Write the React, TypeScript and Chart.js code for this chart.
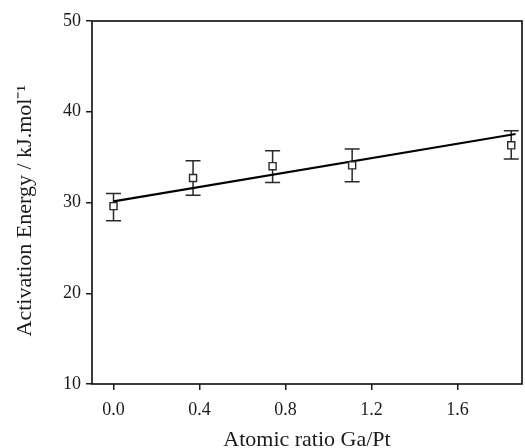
import { useEffect, useRef } from "react";
import { Chart, registerables } from "chart.js";

Chart.register(...registerables);

// Data
const ratioGaPt = [0, 0.37, 0.74, 1.11, 1.85];
const activationEnergy = [29.6, 32.7, 34.0, 34.1, 36.3];
const energyHigh = [31.0, 34.6, 35.7, 35.9, 37.9];
const energyLow = [28.0, 30.8, 32.2, 32.3, 34.8];
const fitX = [0, 1.87];
const fitY = [30.13, 37.55];
const xTickValues = [0, 0.4, 0.8, 1.2, 1.6];
const yTickValues = [10, 20, 30, 40, 50];

const FONT = "'Liberation Serif', 'Times New Roman', Times, serif";
const INK = "#1a1a1a";

const frameAndErrors = {
  id: "frameAndErrors",
  beforeDatasetsDraw(chart: any) {
    const { ctx, scales } = chart;
    const xs = scales.x;
    const ys = scales.y;
    ctx.save();
    ctx.strokeStyle = "#2a2a2a";
    ctx.lineWidth = 1.5;
    const cap = 7.5;
    for (let i = 0; i < ratioGaPt.length; i++) {
      const px = xs.getPixelForValue(ratioGaPt[i]);
      const top = ys.getPixelForValue(energyHigh[i]);
      const bot = ys.getPixelForValue(energyLow[i]);
      ctx.beginPath();
      ctx.moveTo(px, top);
      ctx.lineTo(px, bot);
      ctx.moveTo(px - cap, top);
      ctx.lineTo(px + cap, top);
      ctx.moveTo(px - cap, bot);
      ctx.lineTo(px + cap, bot);
      ctx.stroke();
    }
    ctx.restore();
  },
  afterDraw(chart: any) {
    const { ctx, chartArea } = chart;
    ctx.save();
    ctx.strokeStyle = INK;
    ctx.lineWidth = 1.7;
    ctx.strokeRect(
      chartArea.left,
      chartArea.top,
      chartArea.right - chartArea.left,
      chartArea.bottom - chartArea.top
    );
    ctx.restore();
  },
};

export default function App() {
  const canvasRef = useRef<HTMLCanvasElement | null>(null);

  useEffect(() => {
    const canvas = canvasRef.current;
    if (!canvas) return;
    const chart = new Chart(canvas, {
      type: "scatter",
      data: {
        datasets: [
          {
            label: "Activation energy",
            data: ratioGaPt.map((x, i) => ({ x, y: activationEnergy[i] })),
            pointStyle: "rect",
            pointRadius: 5,
            pointBackgroundColor: "#ffffff",
            pointBorderColor: "#2a2a2a",
            pointBorderWidth: 1.4,
            showLine: false,
            clip: false,
          },
          {
            label: "Linear fit",
            data: fitX.map((x, i) => ({ x, y: fitY[i] })),
            showLine: true,
            borderColor: "#000000",
            borderWidth: 2.2,
            pointRadius: 0,
            fill: false,
            clip: false,
          },
        ],
      },
      options: {
        animation: false,
        responsive: false,
        maintainAspectRatio: false,
        layout: {
          autoPadding: false,
          padding: { top: 21, right: 3, left: 0, bottom: 0 },
        },
        plugins: {
          legend: { display: false },
          tooltip: { enabled: false },
        },
        scales: {
          x: {
            type: "linear",
            min: -0.1,
            max: 1.9,
            afterBuildTicks: (s: any) => {
              s.ticks = xTickValues.map((v) => ({ value: v }));
            },
            afterFit: (s: any) => {
              s.height = 64;
            },
            ticks: {
              color: INK,
              font: { family: FONT, size: 18 },
              padding: 9,
              callback: (v: any) => Number(v).toFixed(1),
              maxRotation: 0,
            },
            grid: {
              drawOnChartArea: false,
              drawTicks: true,
              tickLength: 6,
              color: INK,
              lineWidth: 1.5,
            },
            border: { display: false },
            title: {
              display: true,
              text: "Atomic ratio Ga/Pt",
              color: INK,
              font: { family: FONT, size: 22 },
              padding: { top: 0, bottom: -5 },
            },
          },
          y: {
            type: "linear",
            min: 10,
            max: 50,
            afterBuildTicks: (s: any) => {
              s.ticks = yTickValues.map((v) => ({ value: v }));
            },
            afterFit: (s: any) => {
              s.width = 92;
            },
            ticks: {
              color: INK,
              font: { family: FONT, size: 18 },
              padding: 5,
            },
            grid: {
              drawOnChartArea: false,
              drawTicks: true,
              tickLength: 6,
              color: INK,
              lineWidth: 1.5,
            },
            border: { display: false },
            title: {
              display: true,
              text: "Activation Energy / kJ.mol\u207B\u00B9   ",
              color: INK,
              font: { family: FONT, size: 22 },
              padding: { top: 12, bottom: 0 },
            },
          },
        },
      },
      plugins: [frameAndErrors],
    });
    return () => chart.destroy();
  }, []);

  return (
    <div
      style={{
        position: "fixed",
        left: 0,
        top: 0,
        width: 525,
        height: 448,
        background: "#ffffff",
      }}
    >
      <canvas ref={canvasRef} width={525} height={448} />
    </div>
  );
}
